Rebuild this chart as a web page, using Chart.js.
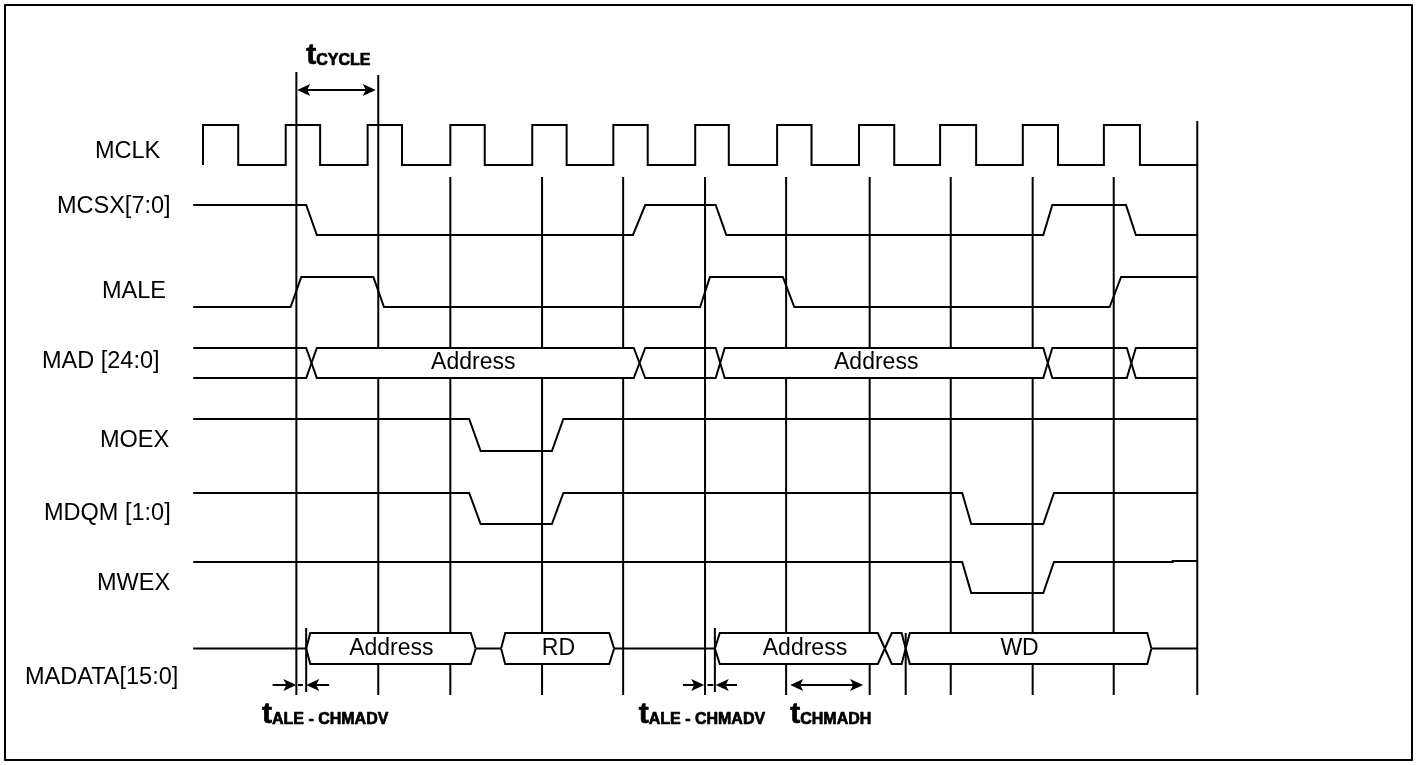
<!DOCTYPE html>
<html><head><meta charset="utf-8">
<script src="https://cdn.jsdelivr.net/npm/chart.js@4.4.1/dist/chart.umd.min.js"></script>
<style>html,body{margin:0;padding:0;background:#fff;overflow:hidden}canvas{display:block}</style>
</head><body>
<canvas id="c" width="1417" height="765"></canvas>
<script>
// ===== DATA (time in MCLK cycles, 0 = first MCLK rising edge; level 1 = high, 0 = low) =====
const tStart = -0.12, tEnd = 12.14;
const signalNames = ['MCLK','MCSX[7:0]','MALE','MAD [24:0]','MOEX','MDQM [1:0]','MWEX','MADATA[15:0]'];
const mclkRise = [0, 1.01, 2.01, 3.02, 4.02, 5.01, 6.01, 7.01, 8.01, 9.00, 10.01, 11.00];
const mclkFall = [0.43, 1.43, 2.43, 3.44, 4.44, 5.43, 6.42, 7.43, 8.44, 9.44, 10.44, 11.44];
// digital traces: initial level + edges [rampStart, rampEnd, newLevel]
const mcsxInit = 1;
const mcsxEdges = [[1.26,1.39,0],[5.25,5.40,1],[6.26,6.39,0],[10.26,10.37,1],[11.27,11.39,0]];
const maleInit = 0;
const maleEdges = [[1.07,1.20,1],[2.08,2.21,0],[6.07,6.19,1],[7.08,7.22,0],[11.07,11.21,1]];
const moexInit = 1;
const moexEdges = [[3.25,3.39,0],[4.26,4.40,1]];
const mdqmInit = 1;
const mdqmEdges = [[3.25,3.39,0],[4.26,4.40,1],[9.27,9.38,0],[10.26,10.39,1]];
const mwexInit = 1;
const mwexEdges = [[9.27,9.38,0],[10.26,10.39,1],[11.84,11.84,1.03]];
// buses: edges [start, end], states V = valid, Z = idle
const madEdges = [[1.26,1.39],[5.26,5.40],[6.26,6.37],[10.26,10.37],[11.28,11.39]];
const madStates = ['V','V','V','V','V','V'];
const madLabels = ['','Address','','Address','',''];
const madLabelAt = [null,3.30,null,8.22,null,null];
const madataEdges = [[1.26,1.31],[3.27,3.33],[3.64,3.69],[4.96,5.02],[6.25,6.31],[8.24,8.41],[8.53,8.63],[11.53,11.58]];
const madataStates = ['Z','V','Z','V','Z','V','V','V','Z'];
const madataLabels = ['','Address','','RD','','Address','','WD',''];
const madataLabelAt = [null,2.30,null,4.34,null,7.35,null,9.97,null];
// reference (clock) lines and timing markers
const gridTimes = [1.14, 2.14, 3.02, 4.14, 5.13, 6.13, 7.12, 8.14, 9.13, 10.13, 11.12, 12.14];
const refTimes = [1.26, 6.25, 8.58];
const timingNames = ['CYCLE','ALE - CHMADV','ALE - CHMADV','CHMADH'];
const timingLabelAt = [1.26, 0.72, 5.32, 7.17];
const arrowFrom = [1.15, 0.85, 1.54, 5.86, 6.52, 7.17];
const arrowTo   = [2.11, 1.14, 1.26, 6.12, 6.26, 8.06];
const arrowBoth = [true, false, false, false, false, true];
const dashFrom = [1.16, 6.16];
const dashTo   = [1.22, 6.23];

// ===== LAYOUT (pixels / view) =====
const view = { xMin: -2.4786, xMax: 14.8230, yMin: 0, yMax: 765 };
const rows = [
  {c:145, h:20}, {c:220, h:15}, {c:292, h:15}, {c:363, h:15},
  {c:435, h:16}, {c:508.5, h:15.5}, {c:577.5, h:15.5}, {c:648.5, h:15.5}
];
const nameX = [-1.319, -1.783, -1.233, -1.966, -1.258, -1.941, -1.294, -2.173];
const nameBase = [158, 213, 298, 368, 447, 520, 590, 684];
const gridTop = [72, 75, 177, 177, 177, 177, 177, 177, 177, 177, 177, 121];
const gridBottom = 695;
const refTop = [628, 628, 633], refBottom = [692, 692, 695];
const arrowY = [90, 685, 685, 685, 685, 685];
const dashY = 685;
const timingBase = [64, 723, 723, 723];
const FONT = "'Liberation Sans', Arial, sans-serif";

// ===== BUILD DATASETS =====
const datasets = [];
function lvl(r, level) { return rows[r].c + rows[r].h * (1 - 2 * level); }
function addLine(points, order, filled, color, width) {
  datasets.push({ data: points, showLine: true, borderColor: color || '#000', borderWidth: width || 2,
    pointRadius: 0, pointHoverRadius: 0, tension: 0,
    fill: filled ? 'shape' : false, backgroundColor: '#fff', order });
}
// grid lines
gridTimes.forEach((t, i) => addLine([{x: t, y: gridTop[i]}, {x: t, y: gridBottom}], 10));
// MCLK
(function () {
  const pts = [];
  mclkRise.forEach((r, i) => {
    pts.push({x: r, y: lvl(0, 0)}, {x: r, y: lvl(0, 1)},
             {x: mclkFall[i], y: lvl(0, 1)}, {x: mclkFall[i], y: lvl(0, 0)});
  });
  pts.push({x: tEnd, y: lvl(0, 0)});
  addLine(pts, 5);
})();
function digital(r, init, edges) {
  const pts = [{x: tStart, y: lvl(r, init)}];
  let cur = init;
  edges.forEach(([a, b, n]) => { pts.push({x: a, y: lvl(r, cur)}, {x: b, y: lvl(r, n)}); cur = n; });
  pts.push({x: tEnd, y: lvl(r, cur)});
  addLine(pts, 5);
}
digital(1, mcsxInit, mcsxEdges);
digital(2, maleInit, maleEdges);
digital(4, moexInit, moexEdges);
digital(5, mdqmInit, mdqmEdges);
digital(6, mwexInit, mwexEdges);

const busTexts = [];
function bus(r, edges, states, labels, labelAt) {
  const hi = lvl(r, 1), lo = lvl(r, 0), mid = rows[r].c;
  const n = states.length;
  for (let i = 0; i < n; i++) {
    const s = states[i];
    let left, right;
    if (i === 0) left = {open: true, x: tStart};
    else {
      const e = edges[i - 1], prev = states[i - 1];
      if (s === 'Z') left = {x: e[1]};
      else if (prev === 'Z') left = {point: e[0], corner: e[1]};
      else left = {point: (e[0] + e[1]) / 2, corner: e[1]};
    }
    if (i === n - 1) right = {open: true, x: tEnd};
    else {
      const e = edges[i], next = states[i + 1];
      if (s === 'Z') right = {x: e[0]};
      else if (next === 'Z') right = {corner: e[0], point: e[1]};
      else right = {corner: e[0], point: (e[0] + e[1]) / 2};
    }
    if (s === 'Z') {
      addLine([{x: left.x, y: mid}, {x: right.x, y: mid}], 5);
      continue;
    }
    const filled = !!labels[i];
    if (filled) {
      // white seam under the outline so nothing shows through where the two halves meet
      addLine([{x: left.corner, y: mid}, {x: right.corner, y: mid}], 4, false, '#fff', 4);
    }
    [hi, lo].forEach(yy => {
      const pts = [];
      if (left.open) pts.push({x: left.x, y: yy});
      else pts.push({x: left.point, y: mid}, {x: left.corner, y: yy});
      if (right.open) pts.push({x: right.x, y: yy});
      else pts.push({x: right.corner, y: yy}, {x: right.point, y: mid});
      addLine(pts, 3, filled);
    });
    if (filled) busTexts.push({text: labels[i], x: labelAt[i], y: mid + 6});
  }
}
bus(3, madEdges, madStates, madLabels, madLabelAt);
bus(7, madataEdges, madataStates, madataLabels, madataLabelAt);
// timing reference lines
refTimes.forEach((t, i) => addLine([{x: t, y: refTop[i]}, {x: t, y: refBottom[i]}], 1));

// ===== ANNOTATION PLUGIN (text, arrows, frame) =====
const annot = {
  id: 'annot',
  afterDatasetsDraw(chart) {
    const ctx = chart.ctx, xs = chart.scales.x, ys = chart.scales.y;
    const X = v => xs.getPixelForValue(v), Y = v => ys.getPixelForValue(v);
    ctx.save();
    ctx.fillStyle = '#000'; ctx.strokeStyle = '#000';
    // signal names
    ctx.font = '23.5px ' + FONT; ctx.textAlign = 'left'; ctx.textBaseline = 'alphabetic';
    signalNames.forEach((s, i) => ctx.fillText(s, X(nameX[i]), Y(nameBase[i])));
    // bus labels
    ctx.font = '23px ' + FONT;
    ctx.textAlign = 'center';
    busTexts.forEach(b => ctx.fillText(b.text, X(b.x), Y(b.y)));
    // arrows
    ctx.lineWidth = 2;
    function head(tip, y, dir) {
      const L = 13, W = 6, N = 3;
      ctx.beginPath();
      ctx.moveTo(tip, y);
      ctx.lineTo(tip - dir * L, y - W);
      ctx.lineTo(tip - dir * (L - N), y);
      ctx.lineTo(tip - dir * L, y + W);
      ctx.closePath(); ctx.fill();
    }
    arrowFrom.forEach((f, i) => {
      const x1 = X(f), x2 = X(arrowTo[i]), y = Y(arrowY[i]);
      const dir = x2 > x1 ? 1 : -1;
      ctx.beginPath();
      ctx.moveTo(arrowBoth[i] ? x1 + dir * 8 : x1, y);
      ctx.lineTo(x2 - dir * 8, y);
      ctx.stroke();
      head(x2, y, dir);
      if (arrowBoth[i]) head(x1, y, -dir);
    });
    dashFrom.forEach((f, i) => {
      ctx.beginPath(); ctx.moveTo(X(f), Y(dashY)); ctx.lineTo(X(dashTo[i]), Y(dashY)); ctx.stroke();
    });
    // timing labels: t + subscript (heavy weight)
    ctx.textAlign = 'left';
    ctx.lineWidth = 0.7; ctx.lineJoin = 'round';
    timingNames.forEach((s, i) => {
      const x = X(timingLabelAt[i]), y = Y(timingBase[i]);
      ctx.font = 'bold 30px ' + FONT;
      ctx.fillText('t', x, y); ctx.strokeText('t', x, y);
      const w = ctx.measureText('t').width;
      ctx.font = 'bold 16px ' + FONT;
      ctx.fillText(s, x + w, y + 1); ctx.strokeText(s, x + w, y + 1);
    });
    // frame
    ctx.lineWidth = 2;
    ctx.strokeRect(5, 5, 1407, 755);
    ctx.restore();
  }
};

new Chart(document.getElementById('c'), {
  type: 'scatter',
  data: { datasets },
  options: {
    responsive: false, animation: false, devicePixelRatio: 1, events: [],
    layout: { padding: 0 },
    plugins: { legend: { display: false }, tooltip: { enabled: false }, filler: { propagate: false } },
    scales: {
      x: { type: 'linear', min: view.xMin, max: view.xMax, display: false },
      y: { type: 'linear', min: view.yMin, max: view.yMax, reverse: true, display: false }
    }
  },
  plugins: [annot]
});
</script>
</body></html>
